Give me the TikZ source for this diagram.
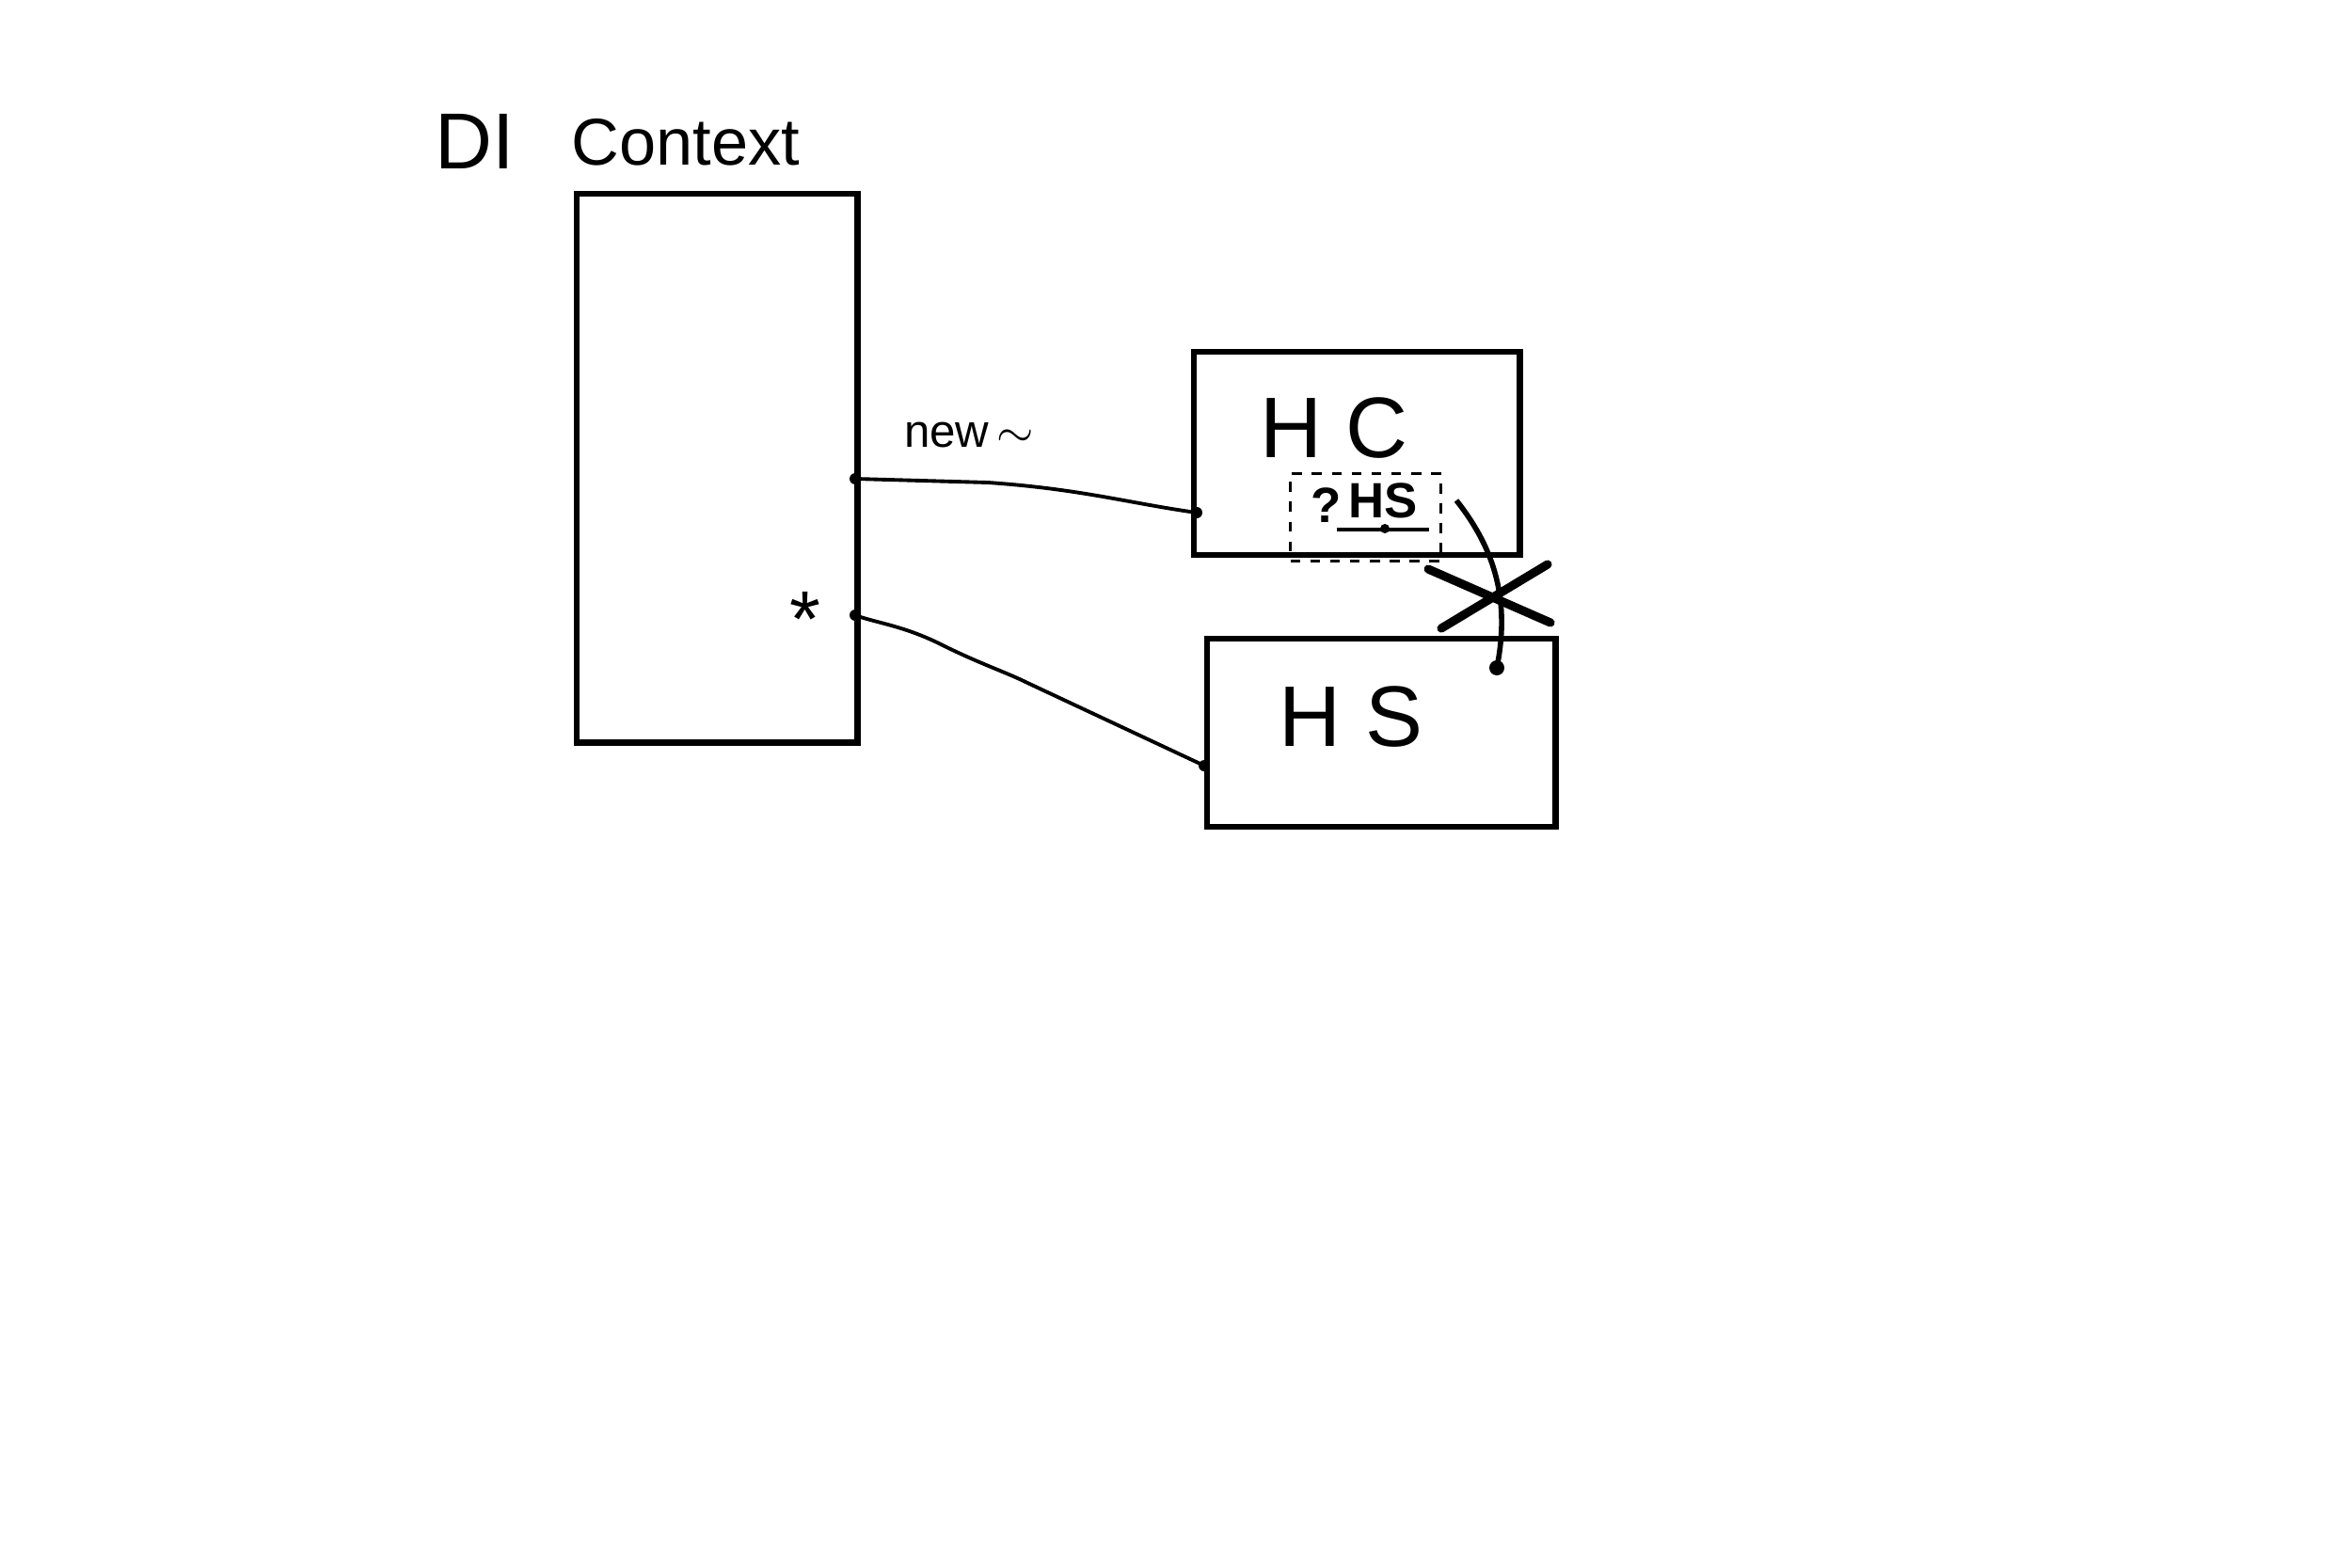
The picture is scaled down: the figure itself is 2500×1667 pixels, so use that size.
\documentclass[tikz,border=0pt]{standalone}
\usepackage{fontspec}
\setmainfont{Liberation Sans}
\usetikzlibrary{arrows.meta}
\begin{document}
\begin{tikzpicture}[x=0.01cm,y=-0.01cm,
  box/.style={draw, line width=1.8pt, inner sep=0pt, anchor=north west},
  dbox/.style={draw, dashed, line width=0.9pt, inner sep=0pt, anchor=north west},
  conn/.style={line width=1.1pt},
  dotp/.style={fill=black, draw=none, circle, inner sep=0pt, minimum size=0.12cm},
  big/.style={font=\fontsize{26}{30}\selectfont},
  mid/.style={font=\fontsize{24}{28}\selectfont},
  small/.style={font=\fontsize{14}{16}\selectfont}]
\useasboundingbox (0,0) rectangle (2500,1667);
% boxes
\node[box, minimum width=2.98cm, minimum height=5.83cm] (ctx) at (610,203) {};
\node[box, minimum width=3.46cm, minimum height=2.16cm] (hc) at (1266,371) {};
\node[box, minimum width=3.70cm, minimum height=2.00cm] (hs) at (1280,676) {};
\node[dbox, minimum width=1.60cm, minimum height=0.93cm] (hsq) at (1370,502) {};
% labels
\node[mid] (di) at (505,150) {DI};
\node[font=\fontsize{20}{24}\selectfont] (ctxl) at (729,151) {Context};
\node[big] (hcl) at (1418,455) {H C};
\node[big] (hsl) at (1436,762) {H S};
\node[small] (newl) at (1030,462) {new\,$\sim$};
\node[mid] (star) at (856,658) {*};
\node[font=\fontsize{15}{17}\selectfont\bfseries] (qm) at (1410,537) {?};
\node[font=\fontsize{15}{17}\selectfont\bfseries] (hsm) at (1470,532) {HS};
\draw[line width=1.2pt] (hsm.south west) -- (hsm.south east);
\node[dotp, minimum size=0.1cm] (hsdot) at (1472,562) {};
% connectors
\coordinate (p1) at (909,509);
\coordinate (q1) at (1272,545);
\coordinate (p2) at (909,654);
\coordinate (q2) at (1280,814);
\node[dotp] (p1d) at (p1) {};
\node[dotp] (q1d) at (q1) {};
\node[dotp] (p2d) at (p2) {};
\node[dotp] (q2d) at (q2) {};
\draw[conn] (p1) -- (1050,513) .. controls (1150,520) and (1200,535) .. (q1);
\draw[conn] (p2) .. controls (930,662) and (960,665) .. (1000,685)
  .. controls (1040,705) and (1070,715) .. (1090,725) -- (q2);
% curved arrow into HS and X mark
\coordinate (a1) at (1548,532);
\coordinate (a2) at (1591,710);
\draw[line width=1.6pt] (a1) .. controls (1590,585) and (1605,640) .. (a2);
\node[dotp, minimum size=0.16cm] (a2d) at (a2) {};
\coordinate (x1) at (1518,605);
\coordinate (x2) at (1648,662);
\coordinate (x3) at (1645,600);
\coordinate (x4) at (1532,668);
\draw[line width=2.6pt, line cap=round] (x1) -- (x2);
\draw[line width=2.6pt, line cap=round] (x3) -- (x4);
\end{tikzpicture}
\end{document}
